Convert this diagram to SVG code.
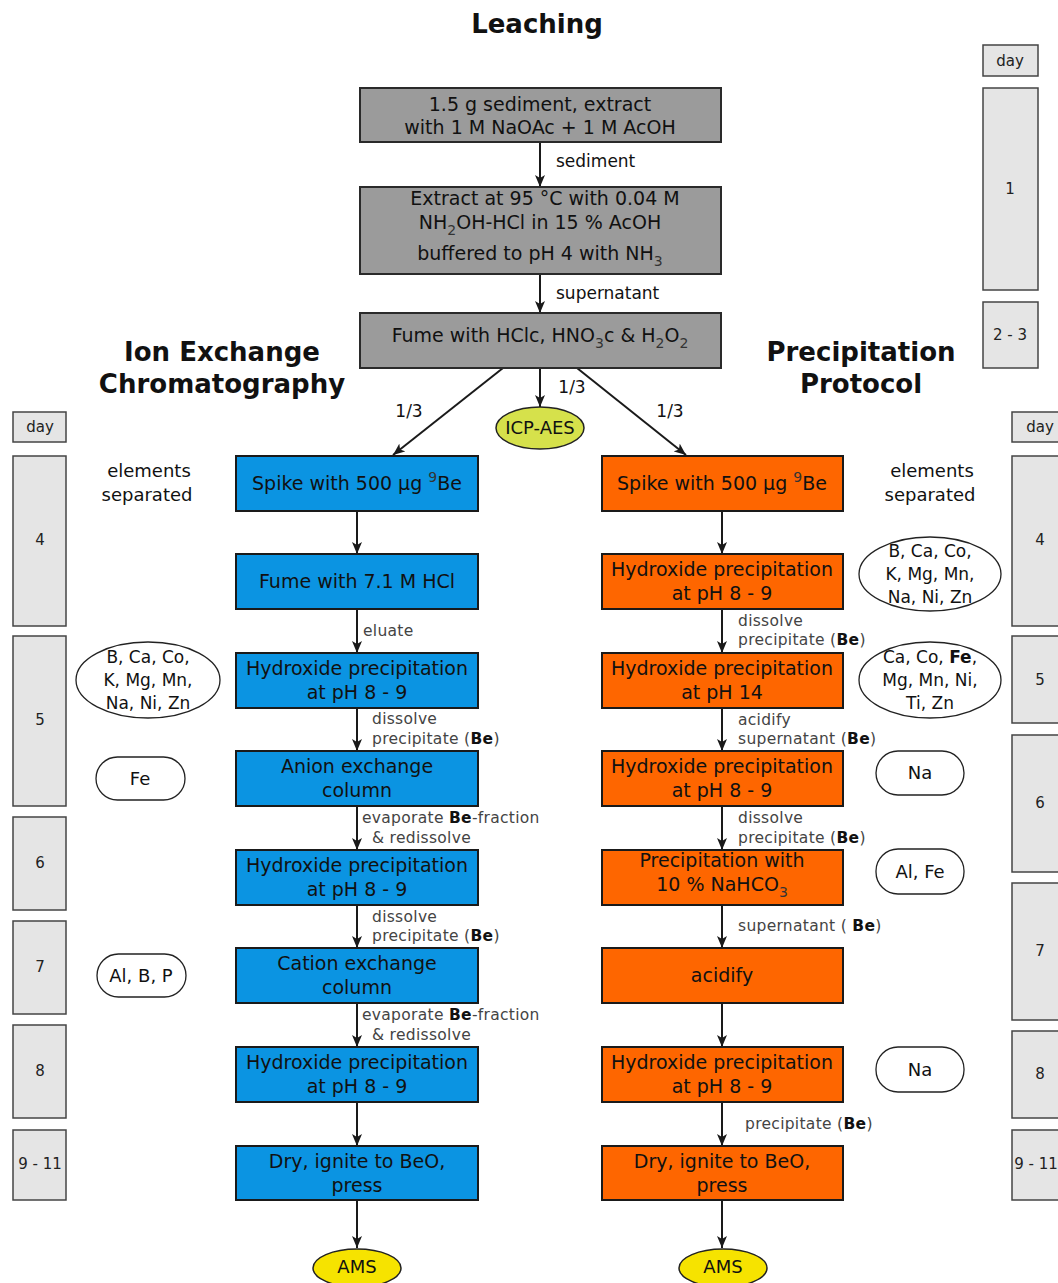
<svg xmlns="http://www.w3.org/2000/svg" width="1058" height="1283" viewBox="0 0 1058 1283">
<style>
text{font-family:"DejaVu Sans","Liberation Sans",sans-serif;}
.title{font-size:26px;font-weight:bold;fill:#111;text-anchor:middle;}
.bx{font-size:19px;fill:#111;text-anchor:middle;}
.gray{fill:#9b9b9b;stroke:#2a2a2a;stroke-width:2;}
.blue{fill:#0b94e2;stroke:#1a1a1a;stroke-width:2;}
.orng{fill:#fe6600;stroke:#1a1a1a;stroke-width:2;}
.day{fill:#e5e5e5;stroke:#444;stroke-width:1.5;}
.dt{font-size:15px;fill:#222;text-anchor:middle;}
.el{fill:#fff;stroke:#222;stroke-width:1.3;}
.et{font-size:18px;fill:#111;text-anchor:middle;}
.em{font-size:17px;fill:#111;text-anchor:middle;}
.lb{font-size:15.5px;fill:#444;letter-spacing:0.3px;}
.lb2{font-size:17px;fill:#111;}
.b{font-weight:bold;fill:#111;}
.sub{font-size:14px;fill:#333;}
.conn line{stroke:#1a1a1a;stroke-width:2;marker-end:url(#ah);}
</style>
<defs>
<marker id="ah" viewBox="0 0 12 10" refX="12" refY="5" markerWidth="12" markerHeight="10" markerUnits="userSpaceOnUse" orient="auto">
<path d="M0,0 L12,5 L0,10 L3,5 z" fill="#1a1a1a"/>
</marker>
</defs>
<rect width="1058" height="1283" fill="#fff"/>

<!-- titles -->
<text class="title" x="537" y="33">Leaching</text>
<text class="title" x="222" y="361">Ion Exchange</text>
<text class="title" x="222" y="393">Chromatography</text>
<text class="title" x="861" y="361">Precipitation</text>
<text class="title" x="861" y="393">Protocol</text>

<!-- day columns -->
<g id="days-top">
<rect class="day" x="983" y="45" width="55" height="31"/><text class="dt" x="1010" y="66">day</text>
<rect class="day" x="983" y="88" width="55" height="202"/><text class="dt" x="1010" y="194">1</text>
<rect class="day" x="983" y="302" width="55" height="66"/><text class="dt" x="1010" y="340">2 - 3</text>
</g>
<g id="days-left">
<rect class="day" x="13" y="412" width="53" height="30"/><text class="dt" x="40" y="432">day</text>
<rect class="day" x="13" y="456" width="53" height="170"/><text class="dt" x="40" y="545">4</text>
<rect class="day" x="13" y="636" width="53" height="170"/><text class="dt" x="40" y="725">5</text>
<rect class="day" x="13" y="817" width="53" height="93"/><text class="dt" x="40" y="868">6</text>
<rect class="day" x="13" y="921" width="53" height="93"/><text class="dt" x="40" y="972">7</text>
<rect class="day" x="13" y="1025" width="53" height="93"/><text class="dt" x="40" y="1076">8</text>
<rect class="day" x="13" y="1130" width="53" height="70"/><text class="dt" x="40" y="1169">9 - 11</text>
</g>
<g id="days-right">
<rect class="day" x="1012" y="412" width="55" height="30"/><text class="dt" x="1040" y="432">day</text>
<rect class="day" x="1012" y="456" width="55" height="170"/><text class="dt" x="1040" y="545">4</text>
<rect class="day" x="1012" y="636" width="55" height="87"/><text class="dt" x="1040" y="685">5</text>
<rect class="day" x="1012" y="735" width="55" height="137"/><text class="dt" x="1040" y="808">6</text>
<rect class="day" x="1012" y="883" width="55" height="137"/><text class="dt" x="1040" y="956">7</text>
<rect class="day" x="1012" y="1031" width="55" height="87"/><text class="dt" x="1040" y="1079">8</text>
<rect class="day" x="1012" y="1130" width="55" height="70"/><text class="dt" x="1036" y="1169">9 - 11</text>
</g>

<!-- connectors -->
<g class="conn" id="connectors">
<line x1="540" y1="142" x2="540" y2="187"/>
<line x1="540" y1="274" x2="540" y2="313"/>
<line x1="503" y1="368" x2="393" y2="455"/>
<line x1="540" y1="368" x2="540" y2="407"/>
<line x1="577" y1="368" x2="686" y2="455"/>
<line x1="357" y1="511" x2="357" y2="554"/>
<line x1="357" y1="609" x2="357" y2="653"/>
<line x1="357" y1="708" x2="357" y2="751"/>
<line x1="357" y1="806" x2="357" y2="850"/>
<line x1="357" y1="905" x2="357" y2="948"/>
<line x1="357" y1="1003" x2="357" y2="1047"/>
<line x1="357" y1="1102" x2="357" y2="1146"/>
<line x1="357" y1="1200" x2="357" y2="1248"/>
<line x1="722" y1="511" x2="722" y2="554"/>
<line x1="722" y1="609" x2="722" y2="653"/>
<line x1="722" y1="708" x2="722" y2="751"/>
<line x1="722" y1="806" x2="722" y2="850"/>
<line x1="722" y1="905" x2="722" y2="948"/>
<line x1="722" y1="1003" x2="722" y2="1047"/>
<line x1="722" y1="1102" x2="722" y2="1146"/>
<line x1="722" y1="1200" x2="722" y2="1248"/>
</g>

<!-- connector labels -->
<g id="conn-labels">
<text class="lb2" x="556" y="167">sediment</text>
<text class="lb2" x="556" y="299">supernatant</text>
<text class="lb2" x="409" y="417" text-anchor="middle">1/3</text>
<text class="lb2" x="572" y="393" text-anchor="middle">1/3</text>
<text class="lb2" x="670" y="417" text-anchor="middle">1/3</text>

<text class="lb" x="363" y="636">eluate</text>
<text class="lb" x="372" y="724">dissolve</text>
<text class="lb" x="372" y="744">precipitate (<tspan class="b">Be</tspan>)</text>
<text class="lb" x="362" y="823">evaporate <tspan class="b">Be</tspan>-fraction</text>
<text class="lb" x="372" y="843">&amp; redissolve</text>
<text class="lb" x="372" y="922">dissolve</text>
<text class="lb" x="372" y="941">precipitate (<tspan class="b">Be</tspan>)</text>
<text class="lb" x="362" y="1020">evaporate <tspan class="b">Be</tspan>-fraction</text>
<text class="lb" x="372" y="1040">&amp; redissolve</text>

<text class="lb" x="738" y="626">dissolve</text>
<text class="lb" x="738" y="645">precipitate (<tspan class="b">Be</tspan>)</text>
<text class="lb" x="738" y="725">acidify</text>
<text class="lb" x="738" y="744">supernatant (<tspan class="b">Be</tspan>)</text>
<text class="lb" x="738" y="823">dissolve</text>
<text class="lb" x="738" y="843">precipitate (<tspan class="b">Be</tspan>)</text>
<text class="lb" x="738" y="931">supernatant ( <tspan class="b">Be</tspan>)</text>
<text class="lb" x="745" y="1129">precipitate (<tspan class="b">Be</tspan>)</text>
</g>

<!-- leaching nodes -->
<g id="leach1">
<rect class="gray" x="360" y="88" width="361" height="54"/>
<text class="bx" x="540" y="111">1.5 g sediment, extract</text>
<text class="bx" x="540" y="134">with 1 M NaOAc + 1 M AcOH</text>
</g>
<g id="leach2">
<rect class="gray" x="360" y="187" width="361" height="87"/>
<text class="bx" x="545" y="205">Extract at 95 °C with 0.04 M</text>
<text class="bx" x="540" y="229">NH<tspan class="sub" dy="6">2</tspan><tspan dy="-6">OH-HCl in 15 % AcOH</tspan></text>
<text class="bx" x="540" y="260">buffered to pH 4 with NH<tspan class="sub" dy="6">3</tspan></text>
</g>
<g id="leach3">
<rect class="gray" x="360" y="313" width="361" height="55"/>
<text class="bx" x="540" y="342">Fume with HClc, HNO<tspan class="sub" dy="6">3</tspan><tspan dy="-6">c &amp; H</tspan><tspan class="sub" dy="6">2</tspan><tspan dy="-6">O</tspan><tspan class="sub" dy="6">2</tspan></text>
</g>
<g id="icp">
<ellipse cx="540" cy="428" rx="44" ry="21" fill="#d6e14b" stroke="#222" stroke-width="1.5"/>
<text class="et" x="540" y="434">ICP-AES</text>
</g>

<!-- ion exchange column -->
<g id="ix1"><rect class="blue" x="236" y="456" width="242" height="55"/>
<text class="bx" x="357" y="490">Spike with 500 µg <tspan class="sub" dy="-8">9</tspan><tspan dy="8">Be</tspan></text></g>
<g id="ix2"><rect class="blue" x="236" y="554" width="242" height="55"/>
<text class="bx" x="357" y="588">Fume with 7.1 M HCl</text></g>
<g id="ix3"><rect class="blue" x="236" y="653" width="242" height="55"/>
<text class="bx" x="357" y="675">Hydroxide precipitation</text>
<text class="bx" x="357" y="699">at pH 8 - 9</text></g>
<g id="ix4"><rect class="blue" x="236" y="751" width="242" height="55"/>
<text class="bx" x="357" y="773">Anion exchange</text>
<text class="bx" x="357" y="797">column</text></g>
<g id="ix5"><rect class="blue" x="236" y="850" width="242" height="55"/>
<text class="bx" x="357" y="872">Hydroxide precipitation</text>
<text class="bx" x="357" y="896">at pH 8 - 9</text></g>
<g id="ix6"><rect class="blue" x="236" y="948" width="242" height="55"/>
<text class="bx" x="357" y="970">Cation exchange</text>
<text class="bx" x="357" y="994">column</text></g>
<g id="ix7"><rect class="blue" x="236" y="1047" width="242" height="55"/>
<text class="bx" x="357" y="1069">Hydroxide precipitation</text>
<text class="bx" x="357" y="1093">at pH 8 - 9</text></g>
<g id="ix8"><rect class="blue" x="236" y="1146" width="242" height="54"/>
<text class="bx" x="357" y="1168">Dry, ignite to BeO,</text>
<text class="bx" x="357" y="1192">press</text></g>
<g id="ams1"><ellipse cx="357" cy="1268" rx="44" ry="19" fill="#f6e300" stroke="#222" stroke-width="1.5"/>
<text class="et" x="357" y="1273">AMS</text></g>

<!-- precipitation column -->
<g id="pp1"><rect class="orng" x="602" y="456" width="241" height="55"/>
<text class="bx" x="722" y="490">Spike with 500 µg <tspan class="sub" dy="-8">9</tspan><tspan dy="8">Be</tspan></text></g>
<g id="pp2"><rect class="orng" x="602" y="554" width="241" height="55"/>
<text class="bx" x="722" y="576">Hydroxide precipitation</text>
<text class="bx" x="722" y="600">at pH 8 - 9</text></g>
<g id="pp3"><rect class="orng" x="602" y="653" width="241" height="55"/>
<text class="bx" x="722" y="675">Hydroxide precipitation</text>
<text class="bx" x="722" y="699">at pH 14</text></g>
<g id="pp4"><rect class="orng" x="602" y="751" width="241" height="55"/>
<text class="bx" x="722" y="773">Hydroxide precipitation</text>
<text class="bx" x="722" y="797">at pH 8 - 9</text></g>
<g id="pp5"><rect class="orng" x="602" y="850" width="241" height="55"/>
<text class="bx" x="722" y="867">Precipitation with</text>
<text class="bx" x="722" y="891">10 % NaHCO<tspan class="sub" dy="6">3</tspan></text></g>
<g id="pp6"><rect class="orng" x="602" y="948" width="241" height="55"/>
<text class="bx" x="722" y="982">acidify</text></g>
<g id="pp7"><rect class="orng" x="602" y="1047" width="241" height="55"/>
<text class="bx" x="722" y="1069">Hydroxide precipitation</text>
<text class="bx" x="722" y="1093">at pH 8 - 9</text></g>
<g id="pp8"><rect class="orng" x="602" y="1146" width="241" height="54"/>
<text class="bx" x="722" y="1168">Dry, ignite to BeO,</text>
<text class="bx" x="722" y="1192">press</text></g>
<g id="ams2"><ellipse cx="723" cy="1268" rx="44" ry="19" fill="#f6e300" stroke="#222" stroke-width="1.5"/>
<text class="et" x="723" y="1273">AMS</text></g>

<!-- separated elements, left -->
<g id="sep-left-head">
<text class="et" x="149" y="477">elements</text>
<text class="et" x="147" y="501">separated</text>
</g>
<g id="sepL1"><ellipse class="el" cx="148" cy="680" rx="72" ry="38"/>
<text class="em" x="148" y="663">B, Ca, Co,</text>
<text class="em" x="148" y="686">K, Mg, Mn,</text>
<text class="em" x="148" y="709">Na, Ni, Zn</text></g>
<g id="sepL2"><rect class="el" x="96" y="757" width="89" height="43" rx="21.5"/>
<text class="et" x="140" y="785">Fe</text></g>
<g id="sepL3"><rect class="el" x="97" y="954" width="89" height="43" rx="21.5"/>
<text class="et" x="141" y="982">Al, B, P</text></g>

<!-- separated elements, right -->
<g id="sep-right-head">
<text class="et" x="932" y="477">elements</text>
<text class="et" x="930" y="501">separated</text>
</g>
<g id="sepR1"><ellipse class="el" cx="930" cy="574" rx="71" ry="37"/>
<text class="em" x="930" y="557">B, Ca, Co,</text>
<text class="em" x="930" y="580">K, Mg, Mn,</text>
<text class="em" x="930" y="603">Na, Ni, Zn</text></g>
<g id="sepR2"><ellipse class="el" cx="930" cy="680" rx="71" ry="38"/>
<text class="em" x="930" y="663">Ca, Co, <tspan font-weight="bold">Fe</tspan>,</text>
<text class="em" x="930" y="686">Mg, Mn, Ni,</text>
<text class="em" x="930" y="709">Ti, Zn</text></g>
<g id="sepR3"><rect class="el" x="876" y="751" width="88" height="44" rx="22"/>
<text class="et" x="920" y="779">Na</text></g>
<g id="sepR4"><rect class="el" x="876" y="849" width="88" height="45" rx="22"/>
<text class="et" x="920" y="878">Al, Fe</text></g>
<g id="sepR5"><rect class="el" x="876" y="1047" width="88" height="45" rx="22"/>
<text class="et" x="920" y="1076">Na</text></g>
</svg>
